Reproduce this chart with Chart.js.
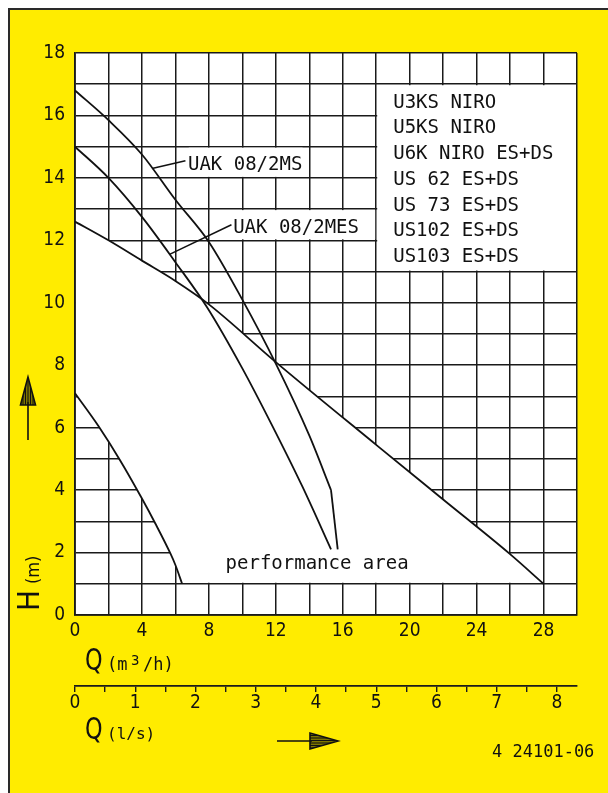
<!DOCTYPE html>
<html><head><meta charset="utf-8">
<script src="https://cdn.jsdelivr.net/npm/chart.js@4/dist/chart.umd.min.js"></script>
<style>
html,body{margin:0;padding:0;background:#fff;}
#wrap{position:relative;width:608px;height:793px;overflow:hidden;}
#panel{position:absolute;left:8px;top:8px;right:-4px;bottom:-4px;background:#FFEC00;border-left:2px solid #2a2a2a;border-top:2px solid #2a2a2a;}
canvas{position:absolute;left:0;top:0;}
</style></head><body>
<div id="wrap"><div id="panel"></div><canvas id="c" width="608" height="793"></canvas></div>
<script>
// ---- data (Q in m3/h, H in m) ----
const msQ = [0, 2, 4, 6, 8, 10, 12, 14, 15.3];
const msH = [16.8, 15.85, 14.75, 13.3, 11.95, 10.1, 8.05, 5.75, 4.0];
const msTailQ = [15.3, 15.7];
const msTailH = [4.0, 2.1];
const mesQ = [0, 2, 4, 6, 7.9, 10, 11.8, 13.6, 15.3];
const mesH = [15.0, 14.0, 12.75, 11.3, 9.85, 7.9, 6.05, 4.1, 2.1];
const lineQ = [0, 2, 4, 6, 8, 12, 18, 22, 26, 28];
const lineH = [12.6, 12.0, 11.35, 10.7, 9.95, 8.1, 5.45, 3.7, 1.95, 1.0];
const lowQ = [0, 1.4, 2.7, 4.0, 4.8, 5.7, 6.0, 6.4];
const lowH = [7.1, 6.05, 4.95, 3.73, 2.93, 1.97, 1.6, 1.0];
const ldrMsQ = [6.6, 4.6];
const ldrMsH = [14.55, 14.3];
const ldrMesQ = [9.35, 5.65];
const ldrMesH = [12.5, 11.55];
const legendItems = ['U3KS NIRO','U5KS NIRO','U6K NIRO ES+DS','US 62 ES+DS','US 73 ES+DS','US102 ES+DS','US103 ES+DS'];
const curveLabels = ['UAK 08/2MS','UAK 08/2MES'];
const areaLabel = 'performance area';
const qMax = 30, hMax = 18;
const M3H_PER_LPS = 3.6;

const NARROW = "'Liberation Sans Narrow','DejaVu Sans Condensed',sans-serif";
const MONO = "'DejaVu Sans Mono',monospace";
const INK = '#111';

const mk = (qs, hs) => qs.map((q, i) => ({x: q, y: hs[i]}));
const base = {showLine: true, pointRadius: 0, borderColor: INK, borderWidth: 1.8, fill: false};

const deco = {
  id: 'deco',
  beforeDraw(chart) {
    const {ctx, chartArea: a} = chart;
    ctx.save(); ctx.fillStyle = '#fff';
    ctx.fillRect(a.left, a.top, a.width, a.height);
    ctx.restore();
  },
  beforeDatasetsDraw(chart) {
    const {ctx, chartArea: a, scales: {x, y}} = chart;
    const X = v => x.getPixelForValue(v), Y = v => y.getPixelForValue(v);
    ctx.save(); ctx.fillStyle = '#fff';
    ctx.fillRect(X(18) + 1, Y(17) + 1, X(30) - X(18) - 2, Y(11) - Y(17) - 2);
    ctx.fillRect(X(6.8), Y(15) + 1, X(13.6) - X(6.8), Y(14) - Y(15) - 2);
    ctx.fillRect(X(9.2), Y(13) + 1, X(18) - X(9.2) - 1, Y(12) - Y(13) - 2);
    ctx.beginPath();
    ctx.rect(a.left + 1, a.top, a.width, Y(1) - 1 - a.top);
    ctx.clip();
    ctx.beginPath();
    lineQ.forEach((q, i) => i ? ctx.lineTo(X(q), Y(lineH[i])) : ctx.moveTo(X(q), Y(lineH[i])));
    ctx.lineTo(X(lineQ[lineQ.length - 1]), Y(0.5));
    ctx.lineTo(X(lowQ[lowQ.length - 1]), Y(0.5));
    for (let i = lowQ.length - 1; i >= 0; i--) ctx.lineTo(X(lowQ[i]), Y(lowH[i]));
    ctx.closePath(); ctx.fill();
    ctx.restore();
  },
  afterDraw(chart) {
    const {ctx, scales: {x, y}} = chart;
    const X = v => x.getPixelForValue(v), Y = v => y.getPixelForValue(v);
    ctx.save();
    ctx.fillStyle = INK; ctx.strokeStyle = INK;
    ctx.textAlign = 'left'; ctx.textBaseline = 'alphabetic';
    ctx.font = '19px ' + MONO;
    legendItems.forEach((t, i) => ctx.fillText(t, X(18) + 17, Y(17) + 23.5 + i * 25.7));
    ctx.fillText(curveLabels[0], X(6.75), Y(14) - 7.5);
    ctx.fillText(curveLabels[1], X(9.45), Y(12) - 7.7);
    ctx.fillText(areaLabel, X(9), Y(1) - 15);

    const bigQ = (px, py) => {
      ctx.save(); ctx.translate(px, py); ctx.scale(0.8, 1);
      ctx.font = '31px ' + NARROW; ctx.fillText('Q', 0, 0); ctx.restore();
    };
    bigQ(85, 670);
    ctx.font = '17px ' + MONO;
    ctx.fillText('(m', 107, 670);
    ctx.font = '14px ' + MONO;
    ctx.fillText('3', 131, 665);
    ctx.font = '17px ' + MONO;
    ctx.fillText('/h)', 143, 670);
    bigQ(85, 739);
    ctx.font = '16px ' + MONO;
    ctx.fillText('(l/s)', 107, 739);

    ctx.save();
    ctx.translate(39, 611); ctx.rotate(-Math.PI / 2);
    ctx.font = '31px ' + NARROW; ctx.fillText('H', 0, 0);
    ctx.font = '18px ' + NARROW; ctx.fillText('(m)', 27, 0);
    ctx.restore();

    ctx.font = '17px ' + MONO;
    ctx.fillText('4 24101-06', 492, 757);

    const hatchTri = (pts, dir) => {
      ctx.save();
      ctx.beginPath(); ctx.moveTo(pts[0][0], pts[0][1]);
      ctx.lineTo(pts[1][0], pts[1][1]); ctx.lineTo(pts[2][0], pts[2][1]); ctx.closePath();
      ctx.fillStyle = 'rgba(40,40,0,0.6)'; ctx.fill();
      ctx.lineWidth = 1.6; ctx.stroke();
      ctx.clip();
      ctx.lineWidth = 1;
      const xs = pts.map(p => p[0]), ys = pts.map(p => p[1]);
      const x0 = Math.min(...xs), x1 = Math.max(...xs), y0 = Math.min(...ys), y1 = Math.max(...ys);
      ctx.beginPath();
      if (dir === 'h') for (let yy = y0; yy <= y1; yy += 2.5) { ctx.moveTo(x0, yy); ctx.lineTo(x1, yy); }
      else for (let xx = x0; xx <= x1; xx += 2.5) { ctx.moveTo(xx, y0); ctx.lineTo(xx, y1); }
      ctx.stroke();
      ctx.restore();
    };
    ctx.lineWidth = 1.6;
    ctx.beginPath(); ctx.moveTo(28, 440); ctx.lineTo(28, 402); ctx.stroke();
    hatchTri([[28, 377], [20.5, 405], [35.5, 405]], 'v');
    ctx.beginPath(); ctx.moveTo(277, 741); ctx.lineTo(312, 741); ctx.stroke();
    hatchTri([[338, 741], [310, 733], [310, 749]], 'h');
    ctx.restore();
  }
};

const gridCol = '#1a1a1a';
new Chart(document.getElementById('c'), {
  type: 'scatter',
  data: {
    datasets: [
      {...base, label: curveLabels[0], data: mk(msQ, msH), cubicInterpolationMode: 'monotone'},
      {...base, label: curveLabels[0] + ' leader', data: mk(msTailQ, msTailH), tension: 0},
      {...base, label: curveLabels[1], data: mk(mesQ, mesH), cubicInterpolationMode: 'monotone'},
      {...base, label: 'limit', data: mk(lineQ, lineH), cubicInterpolationMode: 'monotone'},
      {...base, label: 'lower', data: mk(lowQ, lowH), cubicInterpolationMode: 'monotone'},
      {...base, label: 'ldr1', data: mk(ldrMsQ, ldrMsH), tension: 0, borderWidth: 1.5},
      {...base, label: 'ldr2', data: mk(ldrMesQ, ldrMesH), tension: 0, borderWidth: 1.5}
    ]
  },
  options: {
    responsive: false, animation: false,
    layout: {padding: {left: 0, right: 31, top: 53, bottom: 0}},
    plugins: {legend: {display: false}, tooltip: {enabled: false}},
    scales: {
      x: {
        type: 'linear', position: 'bottom', min: 0, max: qMax,
        ticks: {stepSize: 2, autoSkip: false, maxRotation: 0, padding: 5, color: INK,
          font: {family: NARROW, size: 19},
          callback: v => (v % 4 === 0 && v <= 28) ? String(v) : ''},
        grid: {color: gridCol, lineWidth: 1.5, drawTicks: false},
        border: {display: true, color: gridCol, width: 1.8},
        afterFit: s => { s.height = 71; }
      },
      x2: {
        type: 'linear', position: 'bottom', min: 0, max: qMax / M3H_PER_LPS,
        ticks: {stepSize: 0.5, includeBounds: false, autoSkip: false, maxRotation: 0, padding: 0, color: INK,
          font: {family: NARROW, size: 19},
          callback: v => Number.isInteger(v) ? String(v) : ''},
        grid: {drawOnChartArea: false, drawTicks: true, tickLength: 6, color: gridCol, lineWidth: 1.4},
        border: {display: true, color: gridCol, width: 1.8},
        afterFit: s => { s.height = 107; }
      },
      y: {
        type: 'linear', min: 0, max: hMax,
        ticks: {stepSize: 1, autoSkip: false, padding: 10, color: INK,
          font: {family: NARROW, size: 19},
          callback: v => v % 2 === 0 ? String(v) : ''},
        grid: {color: gridCol, lineWidth: 1.5, drawTicks: false},
        border: {display: true, color: gridCol, width: 1.8},
        afterFit: s => { s.width = 75; }
      }
    }
  },
  plugins: [deco]
});
</script></body></html>
